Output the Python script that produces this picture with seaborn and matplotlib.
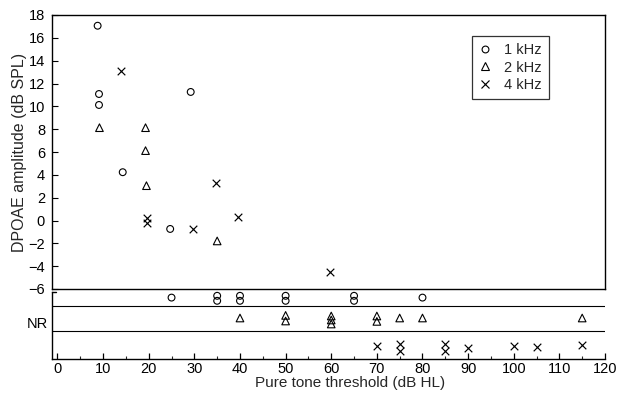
import matplotlib
matplotlib.use("Agg")
import matplotlib.pyplot as plt
import seaborn as sns
import pandas as pd
from matplotlib.lines import Line2D
from matplotlib.ticker import MultipleLocator

# ---------------- data ----------------
# measurable DPOAE amplitudes (dB SPL) vs pure-tone threshold (dB HL)
thr_1k = [8.8, 9.1, 9.1, 29.2, 14.3, 24.7]
amp_1k = [17.06, 11.08, 10.12, 11.26, 4.23, -0.74]

thr_2k = [9.2, 19.3, 19.3, 19.5, 35.0]
amp_2k = [8.13, 8.13, 6.12, 3.05, -1.79]

thr_4k = [13.9, 19.6, 19.6, 29.7, 34.7, 39.6, 59.8]
amp_4k = [13.1, 0.25, -0.2, -0.74, 3.26, 0.28, -4.48]

# no-response (NR) cases: threshold and stacking row inside the NR band
nr_thr_1k = [25, 35, 35, 40, 40, 50, 50, 65, 65, 80]
nr_row_1k = [3.07, 3.16, 2.91, 3.16, 2.91, 3.16, 2.91, 3.16, 2.91, 3.07]

nr_thr_2k = [40, 50, 50, 60, 60, 60, 70, 70, 75, 80, 115]
nr_row_2k = [2.05, 2.18, 1.9, 2.15, 1.95, 1.75, 2.15, 1.88, 2.05, 2.05, 2.05]

nr_thr_4k = [70, 75, 75, 85, 85, 90, 100, 105, 115]
nr_row_4k = [0.63, 0.73, 0.38, 0.73, 0.38, 0.57, 0.63, 0.62, 0.68]

freq_labels = ["1 kHz", "2 kHz", "4 kHz"]
x_ticks = list(range(0, 121, 10))
y_ticks = list(range(-6, 19, 2))

# ---------------- style ----------------
sns.set_style("white")
plt.rcParams["font.family"] = ["Liberation Sans", "DejaVu Sans"]

W, H = 627, 398
fig = plt.figure(figsize=(W / 100, H / 100), dpi=100)


def rect(l, t, r, b):
    return [l / W, 1 - b / H, (r - l) / W, (b - t) / H]


ax = fig.add_axes(rect(52, 15, 605, 289))
axn = fig.add_axes(rect(52, 292, 605, 359), sharex=ax)

mk = dict(o=dict(marker="o", s=24, facecolors="none", edgecolor="black", linewidth=0.8),
          t=dict(marker="^", s=30, facecolors="none", edgecolor="black", linewidth=0.8),
          x=dict(marker="x", s=30, color="black", linewidth=0.85))

main = [(thr_1k, amp_1k, "o"), (thr_2k, amp_2k, "t"), (thr_4k, amp_4k, "x")]
for xs, ys, m in main:
    df = pd.DataFrame({"thr": xs, "amp": ys})
    sns.scatterplot(data=df, x="thr", y="amp", ax=ax, legend=False, clip_on=False, **mk[m])

nr = [(nr_thr_1k, nr_row_1k, "o"), (nr_thr_2k, nr_row_2k, "t"), (nr_thr_4k, nr_row_4k, "x")]
for xs, ys, m in nr:
    df = pd.DataFrame({"thr": xs, "row": ys})
    sns.scatterplot(data=df, x="thr", y="row", ax=axn, legend=False, clip_on=False, **mk[m])

# main axes
ax.set_xlim(-1.2, 120)
ax.set_ylim(-6, 18)
ax.set_yticks(y_ticks)
ax.set_xlabel("")
ax.set_ylabel("")
for sp in ax.spines.values():
    sp.set_visible(True)
    sp.set_color("black")
    sp.set_linewidth(1.0)
ax.tick_params(axis="y", direction="in", length=4, width=0.8, labelsize=10.5, pad=5,
               left=True, colors="black")
ax.tick_params(axis="x", bottom=False, labelbottom=False)

# NR panel
axn.set_ylim(0, 3.35)
axn.set_xticks(x_ticks)
axn.xaxis.set_minor_locator(MultipleLocator(5))
axn.set_yticks([1.8])
axn.set_yticklabels(["NR"])
axn.set_xlabel("")
axn.set_ylabel("")
axn.spines["top"].set_visible(False)
axn.spines["right"].set_visible(False)
for s in ("left", "bottom"):
    axn.spines[s].set_visible(True)
    axn.spines[s].set_color("black")
    axn.spines[s].set_linewidth(1.0)
axn.tick_params(axis="x", which="major", direction="in", length=4.5, width=0.9,
                labelsize=10.5, pad=2.2, bottom=True, colors="black")
axn.tick_params(axis="x", which="minor", direction="in", length=2.5, width=0.8, bottom=True)
axn.tick_params(axis="y", length=0, labelsize=10.5, pad=3, colors="black")
axn.axhline(2.65, color="black", lw=0.8)
axn.axhline(1.4, color="black", lw=0.8)
axn.plot([0, 0.007], [1, 1], transform=axn.transAxes, color="black", lw=1.0, clip_on=False)

# axis titles
fig.text(20 / W, 1 - 152 / H, "DPOAE amplitude (dB SPL)", rotation=90,
         ha="center", va="center", fontsize=11.5)
fig.text(350 / W, 1 - 383 / H, "Pure tone threshold (dB HL)",
         ha="center", va="center", fontsize=11)

# legend
handles = [
    Line2D([], [], ls="none", marker="o", ms=4.9, mfc="none", mec="black", mew=0.8),
    Line2D([], [], ls="none", marker="^", ms=5.5, mfc="none", mec="black", mew=0.8),
    Line2D([], [], ls="none", marker="x", ms=5.5, color="black", mew=0.85),
]
leg = ax.legend(handles, freq_labels, loc="upper left",
                bbox_to_anchor=(472 / W, 1 - 36 / H), bbox_transform=fig.transFigure,
                fontsize=10.5, frameon=True, fancybox=False, edgecolor="black",
                handlelength=0.8, handletextpad=0.9, labelspacing=0.22, borderpad=0.5,
                borderaxespad=0)
leg.get_frame().set_linewidth(0.9)

fig.savefig("out.png", dpi=100)
